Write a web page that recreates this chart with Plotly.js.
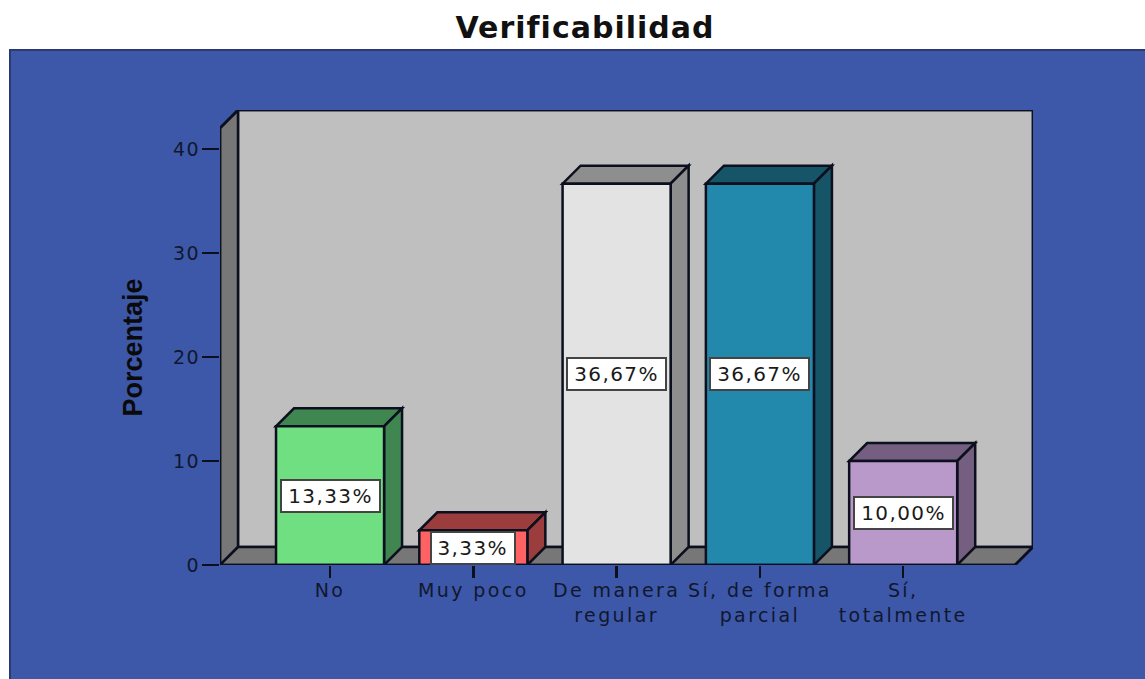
<!DOCTYPE html>
<html><head><meta charset="utf-8">
<script src="https://cdn.plot.ly/plotly-3.0.1.min.js"></script>
<style>html,body{margin:0;padding:0;background:#fff}
.xtick text{letter-spacing:2.4px}
.ytick text{letter-spacing:1.5px}
.annotation-text{letter-spacing:1.4px}
.gtitle{letter-spacing:1px}
.g-ytitle{transform:translate(2px,10px)}
</style>
</head><body><div id="chart" style="width:1145px;height:679px"></div>
<script>
const categories = ['No', 'Muy poco', 'De manera<br>regular', 'Sí, de forma<br>parcial', 'Sí,<br>totalmente'];
const values = [13.33, 3.33, 36.67, 36.67, 10.00];
const frontColors = ['#70DF82', '#FF6262', '#E3E3E3', '#2389AC', '#B899C9'];
const sideColors = ['#3F8650', '#9B3D3D', '#8E8E8E', '#165468', '#755F80'];
const yTicks = [0, 10, 20, 30, 40];

const W = 1145, H = 679, L = 220, R = 1033, T = 110, B = 565;
const xRange = [-0.768, 4.906], yRange = [0, 43.75];
const pxX = (R - L) / (xRange[1] - xRange[0]), pxY = (B - T) / (yRange[1] - yRange[0]);
const depth = 18, dx = depth / pxX, dy = depth / pxY, barW = 0.754;
const ink = '#0c0f1e', textInk = '#11172f', font = 'DejaVu Sans';
const x0 = xRange[0], x1 = xRange[1], yTop = yRange[1];

const poly = pts => 'M' + pts.map(p => p[0] + ' ' + p[1]).join(' L') + ' Z';
const shapeOf = (pts, fill) => ({type: 'path', xref: 'x', yref: 'y', layer: 'below', path: poly(pts),
  fillcolor: fill, line: {color: ink, width: 2.5}});

const shapes = [
  {type: 'rect', xref: 'paper', yref: 'paper', layer: 'below',
   x0: (10 - L) / (R - L), x1: (W + 10 - L) / (R - L), y0: (B - H - 10) / (B - T), y1: (B - 50) / (B - T),
   fillcolor: '#3D57A9', line: {color: '#2b3a70', width: 2}},
  shapeOf([[x0 + dx, dy], [x1, dy], [x1, yTop], [x0 + dx, yTop]], '#BFBFBF'),
  shapeOf([[x0, 0], [x0 + dx, dy], [x0 + dx, yTop], [x0, yTop - dy]], '#777777'),
  shapeOf([[x0, 0], [x1 - dx, 0], [x1, dy], [x0 + dx, dy]], '#777777')
];
values.forEach((v, i) => {
  const a = i - barW / 2, b = i + barW / 2;
  shapes.push(shapeOf([[a, v], [b, v], [b + dx, v + dy], [a + dx, v + dy]], sideColors[i]));
  shapes.push(shapeOf([[b, 0], [b + dx, dy], [b + dx, v + dy], [b, v]], sideColors[i]));
});

const traces = [
  {type: 'bar', x: categories.map((c, i) => i), y: values, width: barW,
   marker: {color: frontColors, line: {color: ink, width: 2.5}}, hoverinfo: 'skip'},
  {type: 'scatter', mode: 'lines', cliponaxis: false, hoverinfo: 'skip',
   x: [x0 + dx, x0, x0, x1 - dx, x1, x1, x0 + dx],
   y: [yTop, yTop - dy, 0, 0, dy, yTop, yTop],
   line: {color: ink, width: 2.5}}
];

const annotations = values.map((v, i) => {
  const text = v.toFixed(2).replace('.', ',') + '%';
  return {x: i, y: v / 2, xref: 'x', yref: 'y', showarrow: false, text,
    width: text.length * 15.5, height: 26,
    font: {family: font, size: 20, color: '#1a1a1a'},
    bgcolor: '#FFFFFF', bordercolor: '#444444', borderwidth: 2, borderpad: 2};
});

Plotly.newPlot('chart', traces, {
  width: W, height: H,
  margin: {l: L, r: W - R, t: T, b: H - B, pad: 0},
  paper_bgcolor: '#FFFFFF', plot_bgcolor: 'rgba(0,0,0,0)',
  showlegend: false,
  title: {text: '<b>Verificabilidad</b>', x: 585 / W, xanchor: 'center', y: 1 - 27 / H, yanchor: 'middle',
          font: {family: font, size: 30, color: '#111111'}},
  xaxis: {range: xRange, tickmode: 'array', tickvals: categories.map((c, i) => i), ticktext: categories,
          ticks: 'outside', ticklen: 12, tickwidth: 2.5, tickcolor: ink, showgrid: false, zeroline: false,
          showline: false, tickangle: 0, ticklabelstandoff: -4,
          tickfont: {family: font, size: 19, color: textInk}},
  yaxis: {range: yRange, tickmode: 'array', tickvals: yTicks, ticks: 'outside', ticklen: 17, tickwidth: 2.5,
          tickcolor: ink, showgrid: false, zeroline: false, showline: false, ticklabelstandoff: -2,
          tickfont: {family: font, size: 19, color: textInk},
          title: {text: '<b>Porcentaje</b>', standoff: 24,
                  font: {family: 'Liberation Sans', size: 27, color: '#0a0a0a'}}},
  shapes, annotations
}, {displayModeBar: false, staticPlot: true});
</script></body></html>
